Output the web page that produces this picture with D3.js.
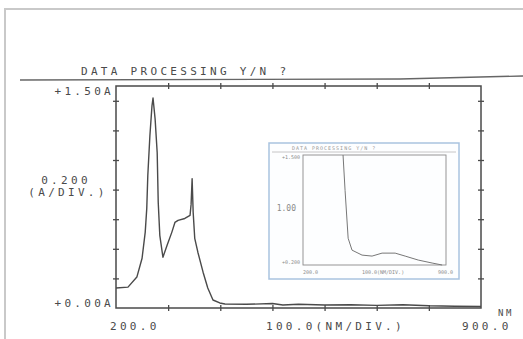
<!DOCTYPE html>
<html>
<head>
<meta charset="utf-8">
<script src="https://cdn.jsdelivr.net/npm/d3@7"></script>
<style>
  body { margin: 0; background: #fff; }
  svg text { font-family: "DejaVu Sans Mono", monospace; }
</style>
</head>
<body>
<div id="graph-container"></div>
<script>
// main spectrum, wavelength (nm) / absorbance (A)
const wavelengths = [200, 223, 240, 250, 256, 259, 261, 265, 269, 271, 275, 279, 281, 284, 290,
  298, 307, 313, 319, 332, 342, 344, 346, 348, 351, 357, 367, 376, 386, 399, 409,
  450, 500, 520, 550, 600, 650, 700, 750, 800, 850, 900];
const absorbance = [0.135, 0.141, 0.209, 0.336, 0.511, 0.673, 0.895, 1.164, 1.366, 1.419, 1.278, 1.049, 0.713, 0.491, 0.343,
  0.424, 0.511, 0.578, 0.592, 0.605, 0.626, 0.7, 0.874, 0.646, 0.471, 0.377, 0.242, 0.135, 0.054, 0.034, 0.027,
  0.025, 0.03, 0.02, 0.025, 0.02, 0.022, 0.018, 0.022, 0.015, 0.012, 0.01];

// small pasted printout (inset)
const insetWavelengths = [396, 406, 421, 440, 489, 538, 587, 651, 700, 764, 832, 881];
const insetValues = [1.0, 0.676, 0.243, 0.135, 0.09, 0.081, 0.108, 0.108, 0.081, 0.045, 0.018, 0.0];

const title = 'DATA PROCESSING Y/N ?';
const yTickValues = [0.2, 0.4, 0.6, 0.8, 1.0, 1.2, 1.4];
const xTickValues = [300, 400, 500, 600, 700, 800];
const yLabels = ['+1.50A', '0.200', '(A/DIV.)', '+0.00A'];
const xLabels = ['200.0', '100.0(NM/DIV.)', '900.0', 'NM'];
const insetYLabels = ['+1.500', '1.00', '+0.200'];
const insetXLabels = ['200.0', '100.0(NM/DIV.)', '900.0'];

const W = 523, H = 339;
const ink = '#4a4a4a';

const svg = d3.select('#graph-container')
  .append('svg')
  .attr('width', W)
  .attr('height', H);

// sheet border + separator line
svg.append('rect')
  .attr('x', 5).attr('y', 9).attr('width', 540).attr('height', 360)
  .attr('fill', 'none').attr('stroke', '#c9c9c9').attr('stroke-width', 2);

svg.append('path')
  .attr('d', d3.line()([[20, 80], [400, 79], [523, 76]]))
  .attr('fill', 'none').attr('stroke', '#666').attr('stroke-width', 1.4);

svg.append('text')
  .attr('x', 81).attr('y', 75)
  .attr('font-size', 11).attr('letter-spacing', 3.3).attr('fill', ink)
  .text(title);

// main plot
const pLeft = 116, pRight = 481, pTop = 86, pBottom = 308;
const x = d3.scaleLinear().domain([200, 900]).range([pLeft, pRight]);
const y = d3.scaleLinear().domain([0, 1.5]).range([pBottom, pTop]);

svg.append('rect')
  .attr('x', pLeft).attr('y', pTop).attr('width', pRight - pLeft).attr('height', pBottom - pTop)
  .attr('fill', 'none').attr('stroke', '#4a4a4a').attr('stroke-width', 1.5);

function tickAxis(axis, tx, ty) {
  const g = svg.append('g')
    .attr('transform', `translate(${tx},${ty})`)
    .call(axis.tickSize(6).tickFormat(''));
  g.select('.domain').remove();
  g.selectAll('line').attr('stroke', '#4a4a4a').attr('stroke-width', 1.3);
}
tickAxis(d3.axisBottom(x).tickValues(xTickValues), 0, pBottom - 3);
tickAxis(d3.axisBottom(x).tickValues(xTickValues), 0, pTop - 3);
tickAxis(d3.axisRight(y).tickValues(yTickValues), pLeft - 3, 0);
tickAxis(d3.axisRight(y).tickValues(yTickValues), pRight - 3, 0);

// inset picture (pasted into the plot area)
const ix = d3.scaleLinear().domain([200, 900]).range([303, 446]);
const iy = d3.scaleLinear().domain([0, 1]).range([265, 155]);

svg.append('rect')
  .attr('x', 269).attr('y', 143).attr('width', 190).attr('height', 136)
  .attr('fill', '#fdfeff').attr('stroke', '#a9c3e0').attr('stroke-width', 1.5);

svg.append('line')
  .attr('x1', 272).attr('x2', 456).attr('y1', 152).attr('y2', 152)
  .attr('stroke', '#b8b8b8').attr('stroke-width', 0.8);

svg.append('text')
  .attr('x', 292).attr('y', 150)
  .attr('font-size', 5).attr('letter-spacing', 1).attr('fill', '#999')
  .text(title);

svg.append('rect')
  .attr('x', 303).attr('y', 155).attr('width', 143).attr('height', 110)
  .attr('fill', 'none').attr('stroke', '#8a8a8a').attr('stroke-width', 0.9);

svg.append('path')
  .attr('d', d3.line().x(d => ix(d[0])).y(d => iy(d[1]))(insetWavelengths.map((w, i) => [w, insetValues[i]])))
  .attr('fill', 'none').attr('stroke', '#777').attr('stroke-width', 1);

const small = (t, px, py, anchor, fs) => svg.append('text')
  .attr('x', px).attr('y', py)
  .attr('text-anchor', anchor)
  .attr('font-size', fs).attr('fill', '#8a8a8a')
  .text(t);

small(insetYLabels[0], 300, 159, 'end', 5);
small(insetYLabels[1], 296, 211, 'end', 8);
small(insetYLabels[2], 300, 264, 'end', 5);
small(insetXLabels[0], 303, 274, 'start', 5);
small(insetXLabels[1], 362, 274, 'start', 5);
small(insetXLabels[2], 438, 274, 'start', 5);

// spectrum trace
const line = d3.line()
  .x(d => x(d[0]))
  .y(d => y(d[1]));

svg.append('path')
  .attr('d', line(wavelengths.map((w, i) => [w, absorbance[i]])))
  .attr('fill', 'none')
  .attr('stroke', '#4a4a4a')
  .attr('stroke-width', 1.4)
  .attr('stroke-linejoin', 'round');

const label = (t, px, py, anchor, fs = 11) => svg.append('text')
  .attr('x', px).attr('y', py)
  .attr('text-anchor', anchor)
  .attr('font-size', fs).attr('letter-spacing', fs * 0.3).attr('fill', ink)
  .text(t);

label(yLabels[0], 114, 95, 'end');
label(yLabels[1], 66, 184, 'middle');
label(yLabels[2], 68, 196, 'middle');
label(yLabels[3], 114, 307, 'end');
label(xLabels[0], 110, 330, 'start');
label(xLabels[1], 266, 330, 'start');
label(xLabels[2], 462, 330, 'start');
label(xLabels[3], 498, 316, 'start', 9);
</script>
</body>
</html>
